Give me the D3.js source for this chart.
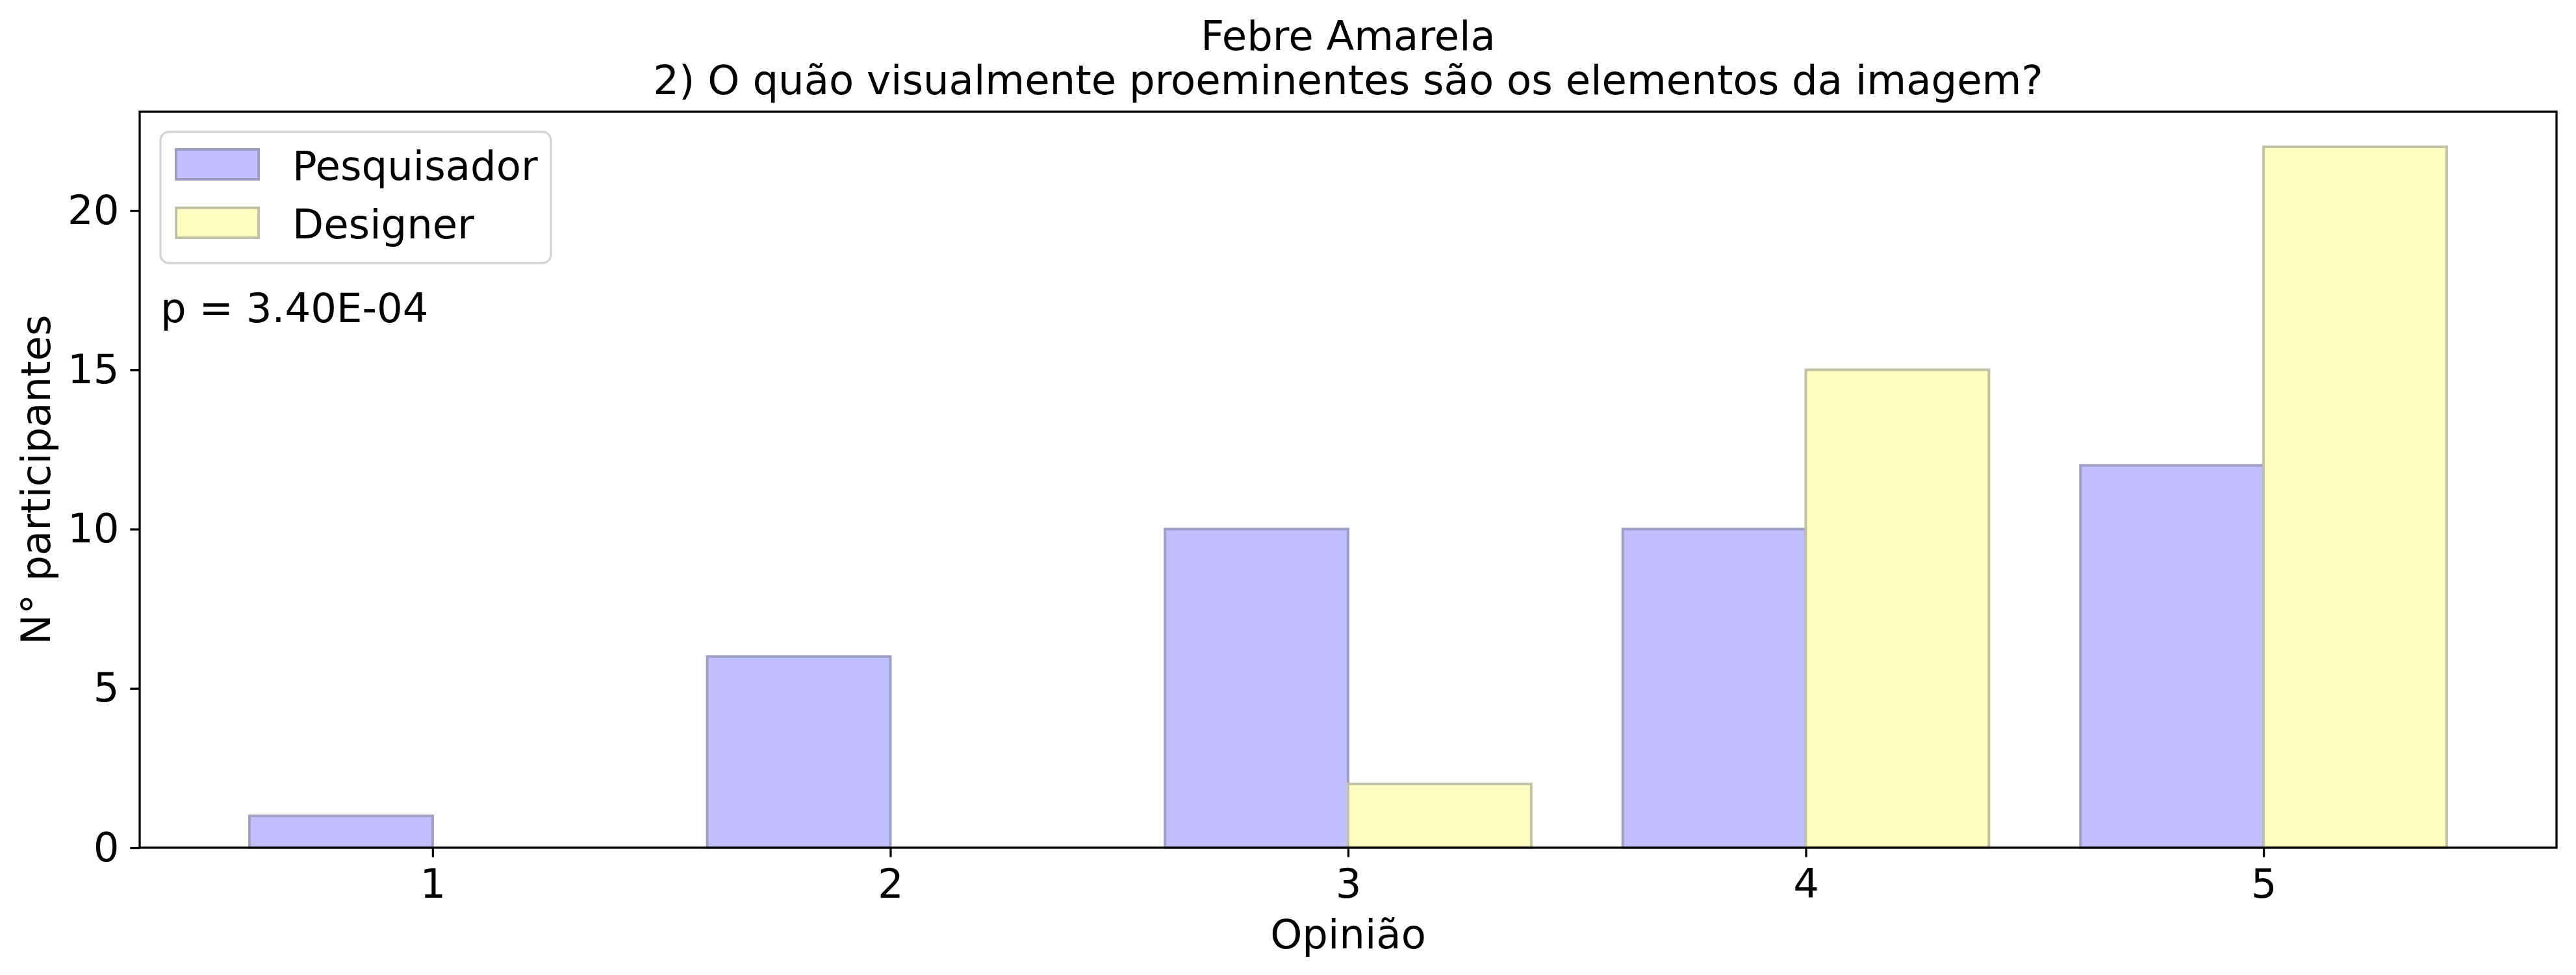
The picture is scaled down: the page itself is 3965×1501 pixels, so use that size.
<!DOCTYPE html>
<html>
<head>
<meta charset="utf-8">
<script src="https://cdn.jsdelivr.net/npm/d3@7"></script>
<style>
  body { margin: 0; background: #fff; }
  text { font-family: "DejaVu Sans", sans-serif; fill: #000; }
</style>
</head>
<body>
<svg id="chart"></svg>
<script>
// values
var opinions = [1, 2, 3, 4, 5];
var pesquisador = [1, 6, 10, 10, 12];
var designer = [0, 0, 2, 15, 22];
var yTicks = [0, 5, 10, 15, 20];
var seriesNames = ["Pesquisador", "Designer"];
var titleLines = ["Febre Amarela", "2) O quão visualmente proeminentes são os elementos da imagem?"];
var pText = "p = 3.40E-04";

var screen = {width: 3965, height: 1501};
var margins = {left: 215, right: 30, top: 172, bottom: 196};
var graph = {
    width: screen.width - margins.left - margins.right,
    height: screen.height - margins.top - margins.bottom
};
var fontSize = 62.5;
var barW = 0.4;

var colors = {
    fill: ["#bfbfff", "#ffffbf"],
    edge: ["#9e9ec6", "#c2c2a6"]
};

var svg = d3.select("#chart")
    .attr("width", screen.width)
    .attr("height", screen.height);

var target = svg.append("g")
    .attr("transform", "translate(" + margins.left + "," + margins.top + ")");

var xScale = d3.scaleLinear()
    .domain([0.36, 5.64])
    .range([0, graph.width]);

var yScale = d3.scaleLinear()
    .domain([0, 23.1])
    .range([graph.height, 0]);

var bw = xScale(barW) - xScale(0);

// bars
var drawBars = function(values, offset, idx) {
    target.append("g")
        .selectAll("rect")
        .data(values)
        .enter()
        .append("rect")
        .attr("x", function(d, i) { return xScale(opinions[i] + offset); })
        .attr("y", function(d) { return yScale(d); })
        .attr("width", bw)
        .attr("height", function(d) { return yScale(0) - yScale(d); })
        .attr("fill", colors.fill[idx])
        .attr("stroke", colors.edge[idx])
        .attr("stroke-width", 4);
};
drawBars(pesquisador, -barW, 0);
drawBars(designer, 0, 1);

// axes
var xAxis = d3.axisBottom(xScale)
    .tickValues(opinions)
    .tickFormat(d3.format("d"))
    .tickSize(14.6)
    .tickSizeOuter(0)
    .tickPadding(18);

var yAxis = d3.axisLeft(yScale)
    .tickValues(yTicks)
    .tickFormat(d3.format("d"))
    .tickSize(14.6)
    .tickSizeOuter(0)
    .tickPadding(17);

var gx = target.append("g")
    .attr("transform", "translate(0," + graph.height + ")")
    .call(xAxis);
var gy = target.append("g").call(yAxis);

[gx, gy].forEach(function(g) {
    g.select(".domain").remove();
    g.selectAll("line").attr("stroke", "#000").attr("stroke-width", 3.3);
    g.selectAll("text")
        .attr("font-size", fontSize)
        .attr("font-family", "DejaVu Sans")
        .attr("fill", "#000");
});

// frame
target.append("rect")
    .attr("x", 0)
    .attr("y", 0)
    .attr("width", graph.width)
    .attr("height", graph.height)
    .attr("fill", "none")
    .attr("stroke", "#000")
    .attr("stroke-width", 3.3);

// title
var title = svg.append("g");
title.selectAll("text")
    .data(titleLines)
    .enter()
    .append("text")
    .text(function(d) { return d; })
    .attr("text-anchor", "middle")
    .attr("font-size", fontSize)
    .attr("x", margins.left + graph.width / 2)
    .attr("y", function(d, i) { return 77 + i * 68; });

// axis labels
svg.append("text")
    .text("Opinião")
    .attr("text-anchor", "middle")
    .attr("font-size", fontSize)
    .attr("x", margins.left + graph.width / 2)
    .attr("y", 1460);

svg.append("text")
    .text("N° participantes")
    .attr("text-anchor", "middle")
    .attr("font-size", fontSize)
    .attr("transform", "translate(77," + (margins.top + graph.height / 2) + ") rotate(-90)");

// p value
target.append("text")
    .text(pText)
    .attr("font-size", fontSize)
    .attr("x", 32)
    .attr("y", 496 - margins.top);

// legend
var legend = target.append("g")
    .attr("transform", "translate(32,31)");

legend.append("rect")
    .attr("width", 601)
    .attr("height", 202)
    .attr("rx", 13)
    .attr("fill", "#fff")
    .attr("fill-opacity", 0.8)
    .attr("stroke", "#d4d4d4")
    .attr("stroke-width", 3.3);

var entries = legend.selectAll("g")
    .data(seriesNames)
    .enter()
    .append("g")
    .attr("transform", function(d, i) { return "translate(0," + (i * 90) + ")"; });

entries.append("rect")
    .attr("x", 24)
    .attr("y", 27)
    .attr("width", 127)
    .attr("height", 46)
    .attr("fill", function(d, i) { return colors.fill[i]; })
    .attr("stroke", function(d, i) { return colors.edge[i]; })
    .attr("stroke-width", 4);

entries.append("text")
    .text(function(d) { return d; })
    .attr("font-size", fontSize)
    .attr("x", 203)
    .attr("y", 74);
</script>
</body>
</html>
